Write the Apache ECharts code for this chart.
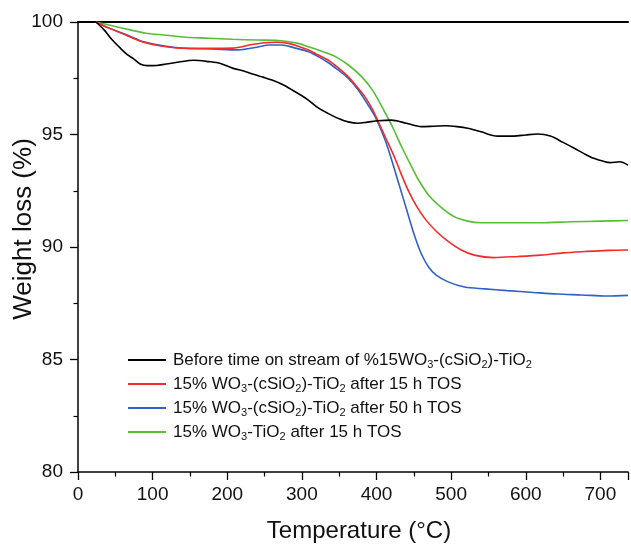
<!DOCTYPE html>
<html>
<head>
<meta charset="utf-8">
<script src="https://cdn.jsdelivr.net/npm/echarts@6/dist/echarts.min.js"></script>
<style>html,body{margin:0;padding:0;background:#fff}#c{width:631px;height:545px}</style>
</head>
<body>
<div id="c"></div>
<script>
const seriesNames = [
  'Before time on stream of %15WO3-(cSiO2)-TiO2',
  '15% WO3-(cSiO2)-TiO2 after 15 h TOS',
  '15% WO3-(cSiO2)-TiO2 after 50 h TOS',
  '15% WO3-TiO2 after 15 h TOS'
];
const seriesColors = ['#000000', '#f52a2a', '#2f62c6', '#55be35'];

const blackT = [24,35,46,57,66,75,84,93,105,118,135,155,175,191,207,222,235,248,260,274,287,300,309,322,335,350,362,375,388,402,420,440,460,477,493,508,522,540,562,584,600,616,633,650,665,678,691,703,713,726,737];
const blackW = [100,99.65,99.2,98.83,98.55,98.35,98.12,98.06,98.07,98.13,98.22,98.3,98.24,98.16,97.95,97.82,97.68,97.55,97.42,97.22,96.98,96.72,96.52,96.18,95.94,95.7,95.56,95.5,95.55,95.61,95.64,95.5,95.35,95.37,95.39,95.35,95.28,95.12,94.93,94.93,94.98,95.02,94.93,94.65,94.39,94.15,93.94,93.82,93.75,93.79,93.64];

const redT = [24,40,64,88,118,145,175,207,233,250,265,282,295,309,322,335,348,362,373,385,394,402,413,424,433,442,453,465,480,496,513,531,557,590,620,650,680,710,737];
const redW = [100,99.75,99.42,99.1,98.9,98.83,98.83,98.84,99.0,99.08,99.1,99.05,98.92,98.76,98.53,98.31,97.98,97.57,97.15,96.65,96.15,95.6,94.8,94.0,93.25,92.55,91.85,91.25,90.7,90.25,89.88,89.64,89.53,89.58,89.64,89.74,89.8,89.85,89.87];

const blueT = [24,40,64,88,118,145,180,215,240,256,273,290,309,322,335,348,362,375,389,398,411,420,430,440,450,460,470,480,496,518,545,575,610,642,675,709,737];
const blueW = [100,99.75,99.45,99.12,98.92,98.83,98.8,98.76,98.88,98.98,98.98,98.85,98.68,98.46,98.2,97.88,97.5,97.0,96.3,95.8,94.8,93.9,92.8,91.7,90.6,89.7,89.1,88.75,88.45,88.22,88.14,88.06,87.98,87.91,87.87,87.82,87.85];

const greenT = [24,50,70,91,115,145,175,207,240,273,295,309,322,335,345,362,380,395,411,422,433,445,456,470,487,504,522,540,580,620,660,700,737];
const greenW = [100,99.8,99.65,99.5,99.42,99.32,99.28,99.23,99.2,99.17,99.05,98.9,98.76,98.6,98.46,98.1,97.57,96.95,96.0,95.3,94.5,93.7,93.0,92.3,91.75,91.35,91.15,91.08,91.08,91.08,91.12,91.15,91.18];

const xTicks = [0,100,200,300,400,500,600,700];
const yTicks = [80,85,90,95,100];

function pairs(t, w){ return t.map((v,i)=>[v,w[i]]); }
const allData = [pairs(blackT,blackW), pairs(redT,redW), pairs(blueT,blueW), pairs(greenT,greenW)];

const chart = echarts.init(document.getElementById('c'), null, {renderer:'canvas'});
const FONT = '"Liberation Sans", Arial, sans-serif';

chart.setOption({
  animation: false,
  backgroundColor: '#ffffff',
  grid: {left: 78, right: 0, top: 22, bottom: 73, containLabel: false},
  xAxis: [{
    type: 'value', min: 0, max: 737, interval: 100,
    axisLine: {show: true, onZero: false, lineStyle: {color: '#000', width: 1.5}},
    axisTick: {show: true, length: 8, lineStyle: {color: '#000', width: 1.3}},
    minorTick: {show: true, splitNumber: 2, length: 4.5, lineStyle: {color: '#000', width: 1.2}},
    splitLine: {show: false},
    axisLabel: {color: '#111', fontSize: 19, fontFamily: FONT, margin: 13,
      formatter: v => (xTicks.indexOf(v) >= 0 ? String(v) : '')}
  }, {
    type: 'value', min: 0, max: 737, position: 'top',
    axisLine: {show: true, onZero: false, lineStyle: {color: '#000', width: 2}},
    axisTick: {show: false}, axisLabel: {show: false}, splitLine: {show: false}
  }],
  yAxis: {
    type: 'value', min: 80, max: 100, interval: 5,
    axisLine: {show: true, onZero: false, lineStyle: {color: '#000', width: 1.5}},
    axisTick: {show: true, length: 8, lineStyle: {color: '#000', width: 1.3}},
    minorTick: {show: true, splitNumber: 2, length: 4.5, lineStyle: {color: '#000', width: 1.2}},
    splitLine: {show: false},
    axisLabel: {color: '#111', fontSize: 19, fontFamily: FONT, margin: 15,
      formatter: v => (yTicks.indexOf(v) >= 0 ? String(v) : '')}
  },
  legend: {
    orient: 'vertical', left: 128, top: 350, padding: 0,
    itemWidth: 38, itemHeight: 14, itemGap: 4,
    icon: 'path://M0,0 L38,0 L38,2 L0,2 Z',
    data: seriesNames,
    textStyle: {fontFamily: FONT, fontSize: 17, color: '#111', lineHeight: 20, padding: [0,0,0,2],
      rich: {sub: {fontFamily: FONT, fontSize: 11, lineHeight: 8, verticalAlign: 'bottom', color: '#111'}}},
    formatter: n => n.replace(/O(\d)/g, 'O{sub|$1}')
  },
  graphic: [
    {type: 'text', x: 359, y: 531, style: {text: 'Temperature (°C)', font: '24px "Liberation Sans", Arial, sans-serif', fill: '#111', textAlign: 'center', textVerticalAlign: 'middle'}},
    {type: 'text', rotation: Math.PI/2, x: 24, y: 229, style: {text: 'Weight loss (%)', font: '26px "Liberation Sans", Arial, sans-serif', fill: '#111', textAlign: 'center', textVerticalAlign: 'middle'}}
  ],
  series: seriesNames.map((n,i)=>({
    name: n, type: 'line', data: allData[i], smooth: 0.3,
    symbol: 'none', showSymbol: false,
    lineStyle: {color: seriesColors[i], width: 1.6},
    itemStyle: {color: seriesColors[i]},
    z: 10 - i
  }))
});
</script>
</body>
</html>
